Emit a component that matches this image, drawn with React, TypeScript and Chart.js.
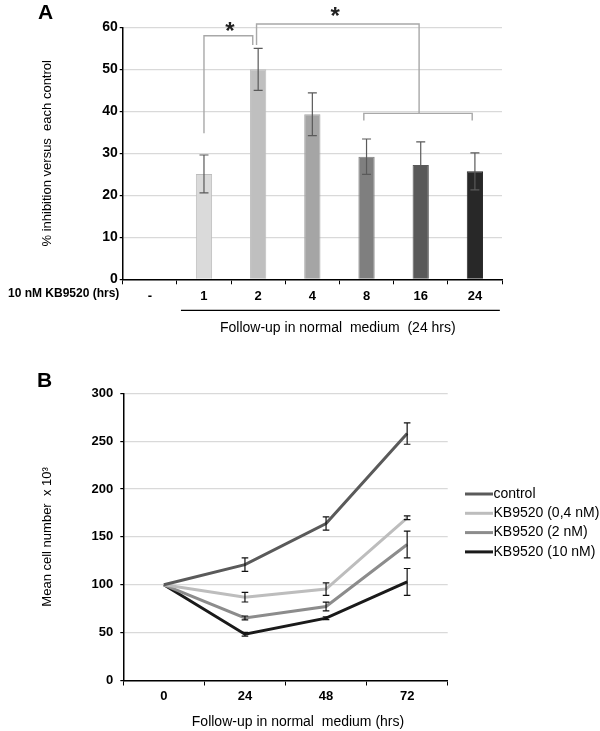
import React, { useEffect, useRef } from 'react';
import { Chart, registerables } from 'chart.js';

Chart.register(...registerables);

const FONT = "'Liberation Sans', Arial, Helvetica, sans-serif";

// ---------- Panel A data ----------
const doseHours = ['-', '1', '2', '4', '8', '16', '24'];
const inhibition = [null, 25.1, 50, 39.3, 29.2, 27.2, 25.7];
const inhibitionErr = [0, 4.5, 5, 5.1, 4.2, 5.5, 4.4];
const barColors = ['#d9d9d9', '#dadada', '#bfbfbf', '#a5a5a5', '#7f7f7f', '#595959', '#282828'];
const barBorders = ['#d9d9d9', '#bdbdbd', '#bfbfbf', '#a5a5a5', '#7f7f7f', '#595959', '#282828'];
const yTicksA = [0, 10, 20, 30, 40, 50, 60];

// significance brackets: polyline points [category position, value]
const bracketShort = [[1, 34.8], [1, 58], [1.9, 58], [1.9, 55.8]];
const bracketLong = [[1.97, 55.8], [1.97, 60.8], [4.97, 60.8], [4.97, 39.5]];
const bracketGroup = [[3.95, 37.8], [3.95, 39.5], [5.95, 39.5], [5.95, 37.8]];
const asterisks = [[1.48, 57.3], [3.42, 60.9]];

// ---------- Panel B data ----------
const followHours = ['0', '24', '48', '72'];
const seriesNames = ['control', 'KB9520 (0,4 nM)', 'KB9520 (2 nM)', 'KB9520 (10 nM)'];
const controlCells = [100, 121, 164, 258];
const kb04Cells = [100, 87, 95.5, 170];
const kb2Cells = [100, 65.4, 77.3, 142];
const kb10Cells = [100, 48.3, 65.1, 103];
const controlErr = [0, 7, 7, 11.2];
const kb04Err = [0, 5, 6.5, 2];
const kb2Err = [0, 2, 4.5, 14];
const kb10Err = [0, 2, 1.5, 14];
const lineColors = ['#5a5a5a', '#bdbdbd', '#8c8c8c', '#1a1a1a'];
const yTicksB = [0, 50, 100, 150, 200, 250, 300];

const seriesValues = [controlCells, kb04Cells, kb2Cells, kb10Cells];
const seriesErrors = [controlErr, kb04Err, kb2Err, kb10Err];

function drawPoly(ctx: CanvasRenderingContext2D, pts: number[][], toX: (c: number) => number, toY: (v: number) => number) {
  ctx.beginPath();
  pts.forEach((p, i) => {
    const px = toX(p[0]);
    const py = toY(p[1]);
    if (i === 0) ctx.moveTo(px, py);
    else ctx.lineTo(px, py);
  });
  ctx.stroke();
}

const panelAPlugin = {
  id: 'panelA',
  afterDatasetsDraw(chart: any) {
    const ctx: CanvasRenderingContext2D = chart.ctx;
    const xs = chart.scales.x;
    const ys = chart.scales.y;
    const area = chart.chartArea;
    const x0 = xs.getPixelForValue(0);
    const catW = xs.getPixelForValue(1) - x0;
    const toX = (c: number) => x0 + c * catW;
    const toY = (v: number) => ys.getPixelForValue(v);

    ctx.save();
    // error bars
    ctx.strokeStyle = '#5a5a5a';
    ctx.lineWidth = 1.2;
    inhibition.forEach((v, i) => {
      if (v == null) return;
      const px = xs.getPixelForValue(i);
      const top = toY(v + inhibitionErr[i]);
      const bot = toY(v - inhibitionErr[i]);
      ctx.beginPath();
      ctx.moveTo(px, top);
      ctx.lineTo(px, bot);
      ctx.moveTo(px - 4.5, top);
      ctx.lineTo(px + 4.5, top);
      ctx.moveTo(px - 4.5, bot);
      ctx.lineTo(px + 4.5, bot);
      ctx.stroke();
    });

    // brackets
    ctx.strokeStyle = '#a8a8a8';
    ctx.lineWidth = 1.4;
    drawPoly(ctx, bracketShort, toX, toY);
    drawPoly(ctx, bracketLong, toX, toY);
    drawPoly(ctx, bracketGroup, toX, toY);

    // asterisks
    ctx.fillStyle = '#222';
    ctx.font = `bold 24px ${FONT}`;
    ctx.textAlign = 'center';
    ctx.textBaseline = 'alphabetic';
    asterisks.forEach((a) => ctx.fillText('*', toX(a[0]), toY(a[1])));

    // panel letter
    ctx.fillStyle = '#000';
    ctx.font = `bold 21px ${FONT}`;
    ctx.textAlign = 'left';
    ctx.textBaseline = 'middle';
    ctx.fillText('A', 38, 13);

    // row label
    ctx.font = `bold 12px ${FONT}`;
    ctx.textAlign = 'left';
    ctx.textBaseline = 'middle';
    ctx.fillText('10 nM KB9520 (hrs)', 8, area.bottom + 14);

    // underline for follow-up group
    ctx.strokeStyle = '#000';
    ctx.lineWidth = 1.2;
    ctx.beginPath();
    ctx.moveTo(toX(0.575), area.bottom + 31);
    ctx.lineTo(toX(6.46), area.bottom + 31);
    ctx.stroke();

    ctx.font = `14px ${FONT}`;
    ctx.textAlign = 'center';
    ctx.fillText('Follow-up in normal  medium  (24 hrs)', toX(3.47), area.bottom + 49);
    ctx.restore();
  },
};

const panelBPlugin = {
  id: 'panelB',
  afterDatasetsDraw(chart: any) {
    const ctx: CanvasRenderingContext2D = chart.ctx;
    const xs = chart.scales.x;
    const ys = chart.scales.y;
    const area = chart.chartArea;
    ctx.save();
    // error bars
    ctx.strokeStyle = '#111';
    ctx.lineWidth = 1.2;
    seriesValues.forEach((vals, s) => {
      vals.forEach((v, i) => {
        const e = seriesErrors[s][i];
        if (!e) return;
        const px = xs.getPixelForValue(i);
        const top = ys.getPixelForValue(v + e);
        const bot = ys.getPixelForValue(v - e);
        ctx.beginPath();
        ctx.moveTo(px, top);
        ctx.lineTo(px, bot);
        ctx.moveTo(px - 3.3, top);
        ctx.lineTo(px + 3.3, top);
        ctx.moveTo(px - 3.3, bot);
        ctx.lineTo(px + 3.3, bot);
        ctx.stroke();
      });
    });

    // legend
    const lx = area.right + 17.3;
    seriesNames.forEach((name, i) => {
      const ly = area.top + 100.7 + i * 19.3;
      ctx.strokeStyle = lineColors[i];
      ctx.lineWidth = 3;
      ctx.beginPath();
      ctx.moveTo(lx, ly);
      ctx.lineTo(lx + 28, ly);
      ctx.stroke();
      ctx.fillStyle = '#000';
      ctx.font = `14px ${FONT}`;
      ctx.textAlign = 'left';
      ctx.textBaseline = 'middle';
      ctx.fillText(name, lx + 28.5, ly);
    });

    // x title
    ctx.fillStyle = '#000';
    ctx.font = `14px ${FONT}`;
    ctx.textAlign = 'center';
    ctx.textBaseline = 'middle';
    ctx.fillText('Follow-up in normal  medium (hrs)', (area.left + area.right) / 2 + 12.5, area.bottom + 41.5);

    // panel letter
    ctx.font = `bold 21px ${FONT}`;
    ctx.textAlign = 'left';
    ctx.fillText('B', 37, 26);
    ctx.restore();
  },
};

function PanelA() {
  const ref = useRef<HTMLCanvasElement>(null);
  useEffect(() => {
    if (!ref.current) return;
    const chart = new Chart(ref.current, {
      type: 'bar',
      data: {
        labels: doseHours,
        datasets: [
          {
            data: inhibition as any,
            backgroundColor: barColors,
            borderColor: barBorders,
            borderWidth: 1,
            barPercentage: 0.3,
            categoryPercentage: 1,
          },
        ],
      },
      options: {
        responsive: false,
        animation: false,
        layout: { padding: { top: 27.3, right: 98, left: 0, bottom: 0 } },
        plugins: { legend: { display: false }, tooltip: { enabled: false } },
        scales: {
          x: {
            afterFit: (s: any) => {
              s.height = 65.7;
            },
            border: { color: '#000', width: 1.5 },
            grid: { display: true, drawOnChartArea: false, drawTicks: true, tickLength: 5, tickColor: '#000', offset: true },
            ticks: { color: '#000', font: { family: FONT, size: 13, weight: 'bold' }, padding: 4 },
          },
          y: {
            min: 0,
            max: 60,
            afterBuildTicks: (s: any) => {
              s.ticks = yTicksA.map((v) => ({ value: v }));
            },
            afterFit: (s: any) => {
              s.width = 122.7;
            },
            border: { color: '#000', width: 1.5 },
            grid: { color: '#d9d9d9', lineWidth: 1.2, tickColor: '#000', tickLength: 3 },
            ticks: { color: '#000', font: { family: FONT, size: 14, weight: 'bold' }, padding: 2 },
            title: {
              display: true,
              text: '% inhibition versus  each control',
              color: '#000',
              font: { family: FONT, size: 13 },
              padding: { top: 40, bottom: 0 },
            },
          },
        },
      },
      plugins: [panelAPlugin],
    } as any);
    return () => chart.destroy();
  }, []);
  return <canvas ref={ref} width={600} height={345} style={{ position: 'absolute', left: 0, top: 0 }} />;
}

function PanelB() {
  const ref = useRef<HTMLCanvasElement>(null);
  useEffect(() => {
    if (!ref.current) return;
    const chart = new Chart(ref.current, {
      type: 'line',
      data: {
        labels: followHours,
        datasets: seriesValues.map((vals, i) => ({
          label: seriesNames[i],
          data: vals,
          borderColor: lineColors[i],
          backgroundColor: lineColors[i],
          borderWidth: 3,
          pointRadius: 0,
          tension: 0,
          fill: false,
        })),
      },
      options: {
        responsive: false,
        animation: false,
        layout: { padding: { top: 38.3, right: 152.3, left: 0, bottom: 0 } },
        plugins: { legend: { display: false }, tooltip: { enabled: false } },
        scales: {
          x: {
            offset: true,
            afterFit: (s: any) => {
              s.height = 50.5;
            },
            border: { color: '#000', width: 1.5 },
            grid: { display: true, drawOnChartArea: false, drawTicks: true, tickLength: 5, tickColor: '#000', offset: true },
            ticks: { color: '#000', font: { family: FONT, size: 13, weight: 'bold' }, padding: 3 },
          },
          y: {
            min: 0,
            max: 300,
            afterBuildTicks: (s: any) => {
              s.ticks = yTicksB.map((v) => ({ value: v }));
            },
            afterFit: (s: any) => {
              s.width = 123.3;
            },
            border: { color: '#000', width: 1.5 },
            grid: { color: '#d9d9d9', lineWidth: 1.2, tickColor: '#000', tickLength: 3 },
            ticks: { color: '#000', font: { family: FONT, size: 13, weight: 'bold' }, padding: 7 },
            title: {
              display: true,
              text: 'Mean cell number  x 10³',
              color: '#000',
              font: { family: FONT, size: 13 },
              padding: { top: 40, bottom: 0 },
            },
          },
        },
      },
      plugins: [panelBPlugin],
    } as any);
    return () => chart.destroy();
  }, []);
  return <canvas ref={ref} width={600} height={376} style={{ position: 'absolute', left: 0, top: 355 }} />;
}

export default function App() {
  return (
    <div style={{ position: 'absolute', left: 0, top: 0, width: 600, height: 731, background: '#fff', overflow: 'hidden' }}>
      <PanelA />
      <PanelB />
    </div>
  );
}
